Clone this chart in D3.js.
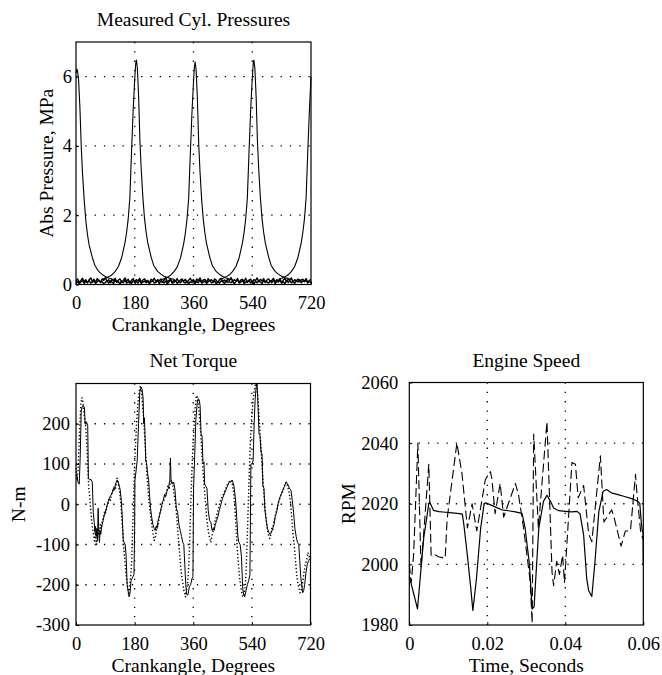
<!DOCTYPE html>
<html><head><meta charset="utf-8">
<script src="https://cdn.jsdelivr.net/npm/d3@7"></script>
<style>
body{margin:0;background:#fff}
svg text{font-family:"Liberation Serif","Times New Roman",Times,"DejaVu Serif","Noto Serif",serif !important;fill:#000}
</style>
</head><body>
<svg id="c" width="662" height="675"></svg>
<script>
// ---------- DATA ----------
const crankTicks = [0, 180, 360, 540, 720];
const crankGrid = [180, 360, 540];
const pressureTicks = [0, 2, 4, 6];
const pressureGrid = [2, 4, 6];

// cylinder pressure traces [crank angle deg, MPa]
const cyl1a = [[0,6.1],[3,6.22],[5,6.15],[8,5.9],[12,5.1],[16,4.0],[20,3.2],[25,2.45],[30,1.85],[35,1.45],[40,1.15],[50,0.78],[58,0.55],[70,0.37],[80,0.29],[90,0.23],[100,0.19],[110,0.16],[120,0.14]];
const cyl1b = [[620,0.15],[630,0.18],[640,0.22],[650,0.28],[660,0.38],[670,0.52],[680,0.78],[690,1.2],[695,1.5],[700,1.9],[705,2.5],[710,3.8],[715,5.0],[720,6.0]];
const cyl2 = [[80,0.15],[90,0.18],[100,0.22],[110,0.28],[120,0.38],[130,0.52],[140,0.78],[150,1.2],[155,1.5],[160,1.9],[165,2.5],[170,3.8],[175,5.0],[180,5.95],[183,6.38],[185,6.48],[188,6.25],[192,5.4],[196,4.1],[200,3.3],[205,2.5],[210,1.9],[215,1.5],[220,1.2],[230,0.8],[238,0.55],[250,0.38],[260,0.3],[270,0.24],[280,0.2],[290,0.17],[300,0.15]];
const cyl3 = [[260,0.14],[270,0.17],[280,0.21],[290,0.27],[300,0.37],[310,0.5],[320,0.76],[330,1.18],[335,1.48],[340,1.88],[345,2.45],[350,3.7],[355,4.9],[360,5.85],[363,6.3],[365,6.42],[368,6.2],[372,5.35],[376,4.05],[380,3.25],[385,2.45],[390,1.88],[395,1.48],[400,1.18],[410,0.78],[418,0.54],[430,0.37],[440,0.29],[450,0.23],[460,0.19],[470,0.16],[480,0.14]];
const cyl4 = [[440,0.15],[450,0.18],[460,0.22],[470,0.28],[480,0.38],[490,0.52],[500,0.78],[510,1.2],[515,1.5],[520,1.9],[525,2.5],[530,3.8],[535,5.0],[540,5.95],[543,6.38],[545,6.48],[548,6.25],[552,5.4],[556,4.1],[560,3.3],[565,2.5],[570,1.9],[575,1.5],[580,1.2],[590,0.8],[598,0.55],[610,0.38],[620,0.3],[630,0.24],[640,0.2],[650,0.17],[660,0.15]];
// low-pressure (noisy) traces, sampled every 5 degrees from 0 to 720
const lowA = [0.10,0.16,0.06,0.12,0.18,0.08,0.14,0.05,0.13,0.19,0.09,0.15,0.06,0.17,0.11,0.07,0.16,0.12,0.20,0.08,
0.14,0.05,0.15,0.10,0.18,0.07,0.13,0.16,0.06,0.12,0.19,0.09,0.15,0.04,0.12,0.17,0.08,0.14,0.10,0.18,
0.06,0.13,0.16,0.09,0.12,0.05,0.15,0.11,0.18,0.07,0.14,0.10,0.16,0.06,0.13,0.19,0.08,0.12,0.15,0.05,
0.14,0.10,0.17,0.07,0.13,0.16,0.09,0.15,0.06,0.12,0.18,0.10,0.14,0.05,0.16,0.11,0.19,0.08,0.13,0.15,
0.06,0.17,0.10,0.14,0.08,0.16,0.12,0.05,0.15,0.18,0.09,0.13,0.07,0.16,0.11,0.20,0.08,0.14,0.10,0.17,
0.06,0.13,0.15,0.09,0.18,0.07,0.12,0.16,0.05,0.14,0.11,0.19,0.08,0.15,0.10,0.17,0.06,0.13,0.16,0.09,
0.12,0.18,0.07,0.14,0.10,0.16,0.05,0.13,0.17,0.08,0.15,0.11,0.19,0.06,0.14,0.10,0.16,0.08,0.13,0.15,
0.09,0.17,0.06,0.12,0.14];
const lowB = [0.04,0.08,0.02,0.07,0.11,0.03,0.09,0.05,0.12,0.04,0.07,0.10,0.03,0.08,0.13,0.05,0.09,0.02,0.06,0.11,
0.04,0.10,0.07,0.03,0.12,0.06,0.08,0.02,0.10,0.05,0.13,0.04,0.07,0.09,0.03,0.11,0.06,0.08,0.04,0.12,
0.03,0.07,0.10,0.05,0.09,0.02,0.08,0.11,0.04,0.06,0.12,0.03,0.09,0.07,0.05,0.10,0.02,0.08,0.13,0.04,
0.06,0.11,0.03,0.09,0.05,0.12,0.07,0.04,0.10,0.02,0.08,0.06,0.11,0.03,0.09,0.05,0.13,0.04,0.07,0.10,
0.03,0.08,0.12,0.05,0.06,0.10,0.02,0.09,0.04,0.11,0.07,0.03,0.12,0.06,0.08,0.05,0.10,0.02,0.09,0.13,
0.04,0.07,0.11,0.03,0.08,0.06,0.12,0.04,0.10,0.02,0.09,0.05,0.11,0.07,0.03,0.12,0.06,0.08,0.04,0.10,
0.05,0.13,0.03,0.09,0.07,0.11,0.04,0.08,0.02,0.12,0.06,0.10,0.05,0.09,0.03,0.11,0.07,0.14,0.05,0.10,
0.08,0.12,0.04,0.09,0.06];

const torqueTicks = [-300, -200, -100, 0, 100, 200];
const torqueGrid = [-200, -100, 0, 100, 200];
// measured net torque (solid) [deg, N-m]
const torqueSolid = [[0,75],[3,70],[6,55],[10,50],[13,120],[16,230],[19,242],[22,245],[26,240],[28,200],[32,205],[36,195],[38,65],[42,60],[46,62],[50,55],[53,-20],[56,-45],[58,-70],[60,-55],[62,-80],[64,-60],[66,-90],[68,-10],[70,-70],[72,-95],[74,-65],[76,-75],[79,-55],[82,-45],[86,-30],[90,-20],[95,-5],[100,10],[105,20],[110,25],[115,40],[118,35],[121,50],[124,55],[127,60],[130,55],[133,45],[136,35],[139,10],[142,-30],[145,-90],[148,-95],[151,-100],[154,-130],[157,-200],[160,-215],[163,-230],[166,-220],[169,-190],[172,-185],[175,-180],[178,-175],[180,-60],[181,60],[184,80],[188,110],[192,200],[196,280],[200,290],[203,285],[206,265],[208,200],[210,215],[212,170],[214,110],[217,100],[220,75],[223,60],[226,20],[229,-10],[232,-30],[236,-50],[240,-60],[243,-65],[246,-55],[249,-60],[252,-40],[256,-30],[260,-15],[264,0],[268,10],[272,25],[276,20],[280,35],[284,40],[288,60],[290,115],[292,55],[296,50],[300,55],[304,35],[308,-10],[312,-20],[316,-50],[320,-65],[324,-80],[328,-95],[331,-100],[334,-150],[337,-200],[340,-225],[344,-225],[348,-205],[352,-200],[356,-185],[359,-180],[361,40],[364,110],[368,210],[372,250],[375,262],[378,260],[381,245],[384,175],[387,170],[390,100],[393,105],[395,50],[398,45],[402,40],[406,-15],[410,-40],[414,-45],[418,-65],[421,-60],[424,-65],[428,-50],[432,-40],[436,-30],[440,-15],[445,0],[450,15],[455,25],[460,35],[465,45],[470,55],[475,55],[480,60],[485,45],[488,25],[491,0],[494,-40],[497,-80],[500,-95],[504,-100],[508,-130],[512,-210],[515,-225],[518,-230],[522,-215],[526,-200],[530,-190],[534,-175],[537,100],[541,100],[544,110],[547,200],[550,260],[553,290],[556,300],[559,240],[562,175],[565,170],[568,130],[571,125],[574,45],[577,40],[580,-15],[584,-40],[588,-60],[592,-70],[596,-75],[600,-70],[604,-60],[608,-50],[612,-30],[616,-20],[620,0],[625,15],[630,25],[635,35],[640,45],[645,55],[650,50],[655,40],[660,35],[664,10],[668,-20],[672,-60],[676,-80],[680,-95],[684,-100],[687,-140],[690,-180],[693,-200],[696,-220],[699,-215],[702,-200],[706,-170],[710,-150],[714,-140],[718,-135]];
// modelled net torque (dotted) [deg, N-m]
const torqueDotted = [[0,90],[3,60],[6,80],[9,140],[12,200],[15,250],[18,265],[21,255],[24,230],[27,210],[30,190],[33,150],[36,100],[39,40],[42,20],[45,-10],[48,-40],[51,-60],[54,-75],[57,-95],[60,-70],[63,-100],[66,-80],[69,-60],[72,-75],[75,-50],[78,-60],[81,-40],[84,-35],[87,-20],[90,-25],[94,-5],[98,0],[102,15],[106,10],[110,30],[114,35],[118,45],[122,40],[126,65],[130,50],[134,30],[138,0],[141,-40],[144,-70],[147,-110],[150,-140],[153,-170],[156,-190],[159,-210],[162,-225],[165,-200],[168,-180],[171,-140],[174,-60],[177,20],[180,100],[183,150],[186,200],[189,240],[192,265],[195,285],[198,295],[201,285],[204,250],[207,220],[210,180],[213,140],[216,100],[219,60],[222,30],[225,0],[228,-20],[231,-40],[234,-60],[237,-75],[240,-90],[243,-85],[246,-70],[249,-50],[252,-55],[255,-35],[258,-20],[262,-10],[266,5],[270,10],[274,20],[278,30],[282,45],[286,40],[290,55],[294,60],[298,45],[302,20],[306,0],[309,-30],[312,-60],[315,-90],[318,-120],[321,-150],[324,-175],[327,-190],[330,-210],[333,-220],[336,-230],[339,-215],[342,-200],[345,-170],[348,-120],[351,-40],[354,40],[357,110],[360,160],[363,200],[366,240],[369,265],[372,270],[375,255],[378,230],[381,200],[384,160],[387,120],[390,80],[393,50],[396,20],[399,-10],[402,-40],[405,-60],[408,-75],[411,-85],[414,-95],[417,-80],[420,-70],[423,-60],[426,-45],[430,-35],[434,-20],[438,-10],[442,5],[446,15],[450,20],[455,30],[460,40],[465,50],[470,55],[475,60],[480,50],[484,30],[487,0],[490,-40],[493,-80],[496,-120],[499,-150],[502,-180],[505,-200],[508,-215],[511,-228],[514,-230],[517,-220],[520,-200],[523,-150],[526,-80],[529,0],[532,80],[535,150],[538,200],[541,230],[544,260],[547,280],[550,295],[553,300],[556,290],[559,260],[562,220],[565,180],[568,140],[571,100],[574,60],[577,30],[580,0],[583,-30],[586,-55],[589,-70],[592,-80],[595,-85],[598,-75],[601,-60],[604,-65],[607,-45],[610,-35],[614,-20],[618,-10],[622,5],[626,15],[630,25],[634,30],[638,40],[642,50],[646,55],[650,45],[654,30],[658,10],[661,-20],[664,-50],[667,-80],[670,-100],[673,-130],[676,-160],[679,-185],[682,-200],[685,-210],[688,-220],[691,-215],[694,-205],[697,-190],[700,-170],[704,-150],[708,-140],[712,-120],[716,-130],[720,-140]];

const timeTicks = [0, 0.02, 0.04, 0.06];
const timeGrid = [0.02, 0.04];
const rpmTicks = [1980, 2000, 2020, 2040, 2060];
const rpmGrid = [2000, 2020, 2040];
// engine speed [s, RPM]
const speedSolid = [[0,1996],[0.0008,1992],[0.0021,1985.3],[0.0037,2008.7],[0.005,2020],[0.0053,2020.4],[0.0062,2017.8],[0.0076,2017.4],[0.0093,2017.2],[0.011,2017],[0.0123,2016.8],[0.0136,2016.6],[0.014,2013],[0.0148,2004],[0.0157,1993],[0.0163,1984.8],[0.0172,1995],[0.0183,2012],[0.0192,2020],[0.0196,2020.3],[0.0216,2019.2],[0.0237,2018],[0.0254,2017.7],[0.0272,2017.3],[0.0289,2016.8],[0.0297,2012],[0.0308,2000],[0.0315,1985.3],[0.032,1986],[0.0332,2011.9],[0.0344,2020.8],[0.0353,2022.8],[0.0362,2020.8],[0.037,2018.6],[0.0383,2017.7],[0.04,2017.5],[0.0417,2017.3],[0.043,2017.5],[0.0438,2016.6],[0.0447,2009.7],[0.0455,1995.2],[0.046,1991.3],[0.0468,1989.4],[0.0476,2000.8],[0.0486,2017.4],[0.0497,2024.1],[0.0506,2024.7],[0.0518,2023.6],[0.0535,2023],[0.0552,2022.4],[0.057,2021.7],[0.0583,2021],[0.0591,2020.2],[0.0594,2015],[0.0597,2011.3],[0.05995,2010.5],[0.06,2000]];
const speedDashed = [[0,2000],[0.0005,1994],[0.0011,2003],[0.0022,2040],[0.003,1999],[0.0038,2012],[0.005,2033],[0.0056,2003],[0.0062,2003.5],[0.0075,2002.5],[0.0092,2002],[0.0097,2015],[0.0122,2040],[0.0135,2030],[0.0149,2012],[0.0161,2020],[0.0173,2011],[0.0195,2028],[0.0208,2030.6],[0.0212,2028],[0.022,2016.7],[0.0233,2026.7],[0.0242,2015.6],[0.0272,2026.7],[0.028,2023],[0.0293,2012],[0.031,1994.4],[0.0315,1980.6],[0.0319,2043],[0.0331,2012],[0.0353,2047],[0.0366,1997.4],[0.037,1993],[0.0378,2001],[0.0385,1996.7],[0.0393,2003],[0.0398,1994],[0.0417,2033.6],[0.0426,2033],[0.0433,2022],[0.0447,2026],[0.046,2010],[0.0468,2007.5],[0.049,2035.8],[0.0499,2014],[0.0519,2018],[0.0524,2016],[0.0543,2006],[0.0554,2011],[0.0567,2011],[0.058,2029.7],[0.0584,2023],[0.0593,2011],[0.06,2008]];

// ---------- DRAWING ----------
const svg = d3.select("#c");
const FONT = '"Liberation Serif","Times New Roman",Times,"DejaVu Serif","Noto Serif",serif';
const FS = 19.5, TFS = 18.5;

function panel(cfg) {
  const g = svg.append("g");
  const x = d3.scaleLinear().domain(cfg.xDomain).range([cfg.left, cfg.right]);
  const y = d3.scaleLinear().domain(cfg.yDomain).range([cfg.bottom, cfg.top]);
  const gridStyle = s => s.attr("stroke", "#000").attr("stroke-width", 1.3).attr("stroke-dasharray", "1.3,8");
  g.append("g").selectAll("line").data(cfg.xGrid).join("line")
    .attr("x1", d => x(d)).attr("x2", d => x(d)).attr("y1", cfg.top).attr("y2", cfg.bottom).call(gridStyle);
  g.append("g").selectAll("line").data(cfg.yGrid).join("line")
    .attr("y1", d => y(d)).attr("y2", d => y(d)).attr("x1", cfg.left).attr("x2", cfg.right).call(gridStyle);

  const xa = d3.axisBottom(x).tickValues(cfg.xTicks).tickFormat(cfg.xFormat || (d => d))
    .tickSizeInner(-3).tickSizeOuter(0).tickPadding(cfg.xPad);
  const ya = d3.axisLeft(y).tickValues(cfg.yTicks).tickFormat(d => d)
    .tickSizeInner(-3).tickSizeOuter(0).tickPadding(cfg.yPad);
  const ax = g.append("g").attr("transform", `translate(0,${cfg.bottom})`).call(xa);
  const ay = g.append("g").attr("transform", `translate(${cfg.left},0)`).call(ya);
  [ax, ay].forEach(a => {
    a.attr("font-family", FONT).attr("font-size", TFS);
    a.select(".domain").remove();
    a.selectAll("text").attr("font-size", TFS).attr("font-family", FONT).attr("fill", "#000");
    a.selectAll("line").attr("stroke", "#000");
  });

  const t = (xx, yy, s) => g.append("text").attr("x", xx).attr("y", yy)
    .attr("text-anchor", "middle").attr("font-size", FS).attr("font-family", FONT).text(s);
  t((cfg.left + cfg.right) / 2, cfg.titleY, cfg.title);
  t((cfg.left + cfg.right) / 2, cfg.xLabelY, cfg.xLabel);
  g.append("text").attr("transform", `translate(${cfg.yLabelX},${(cfg.top + cfg.bottom) / 2}) rotate(-90)`)
    .attr("text-anchor", "middle").attr("font-size", FS).attr("font-family", FONT).text(cfg.yLabel);

  const plot = g.append("g");
  return {x, y, g, plot, cfg};
}

function addLine(p, data, opts = {}) {
  const line = d3.line().x(d => p.x(d[0])).y(d => p.y(d[1]));
  p.plot.append("path").datum(data).attr("d", line)
    .attr("fill", "none").attr("stroke", "#000")
    .attr("stroke-width", opts.w || 1)
    .attr("stroke-dasharray", opts.dash || null)
    .attr("stroke-linejoin", "round");
}

function frame(p) {
  const c = p.cfg;
  p.g.append("rect").attr("x", c.left).attr("y", c.top)
    .attr("width", c.right - c.left).attr("height", c.bottom - c.top)
    .attr("fill", "none").attr("stroke", "#000").attr("stroke-width", 1.2);
}

// --- Panel 1: Measured Cyl. Pressures ---
const p1 = panel({
  left: 76, right: 311, top: 42, bottom: 284.5,
  xDomain: [0, 720], yDomain: [0, 7],
  xTicks: crankTicks, yTicks: pressureTicks, xGrid: crankGrid, yGrid: pressureGrid,
  xPad: 11, yPad: 4,
  title: "Measured Cyl. Pressures", titleY: 26,
  xLabel: "Crankangle, Degrees", xLabelY: 331,
  yLabel: "Abs Pressure, MPa", yLabelX: 53
});
const lowAngles = d3.range(0, 721, 5);
addLine(p1, lowAngles.map((a, i) => [a, lowA[i]]), {w: 1.4});
addLine(p1, lowAngles.map((a, i) => [a, lowB[i]]), {w: 1.4});
[cyl1a, cyl1b, cyl2, cyl3, cyl4].forEach(c => addLine(p1, c, {w: 1.1}));
frame(p1);

// --- Panel 2: Net Torque ---
const p2 = panel({
  left: 76, right: 310.5, top: 383.5, bottom: 625,
  xDomain: [0, 720], yDomain: [-300, 300],
  xTicks: crankTicks, yTicks: torqueTicks, xGrid: crankGrid, yGrid: torqueGrid,
  xPad: 12, yPad: 6,
  title: "Net Torque", titleY: 367,
  xLabel: "Crankangle, Degrees", xLabelY: 671.5,
  yLabel: "N-m", yLabelX: 25
});
addLine(p2, torqueDotted, {w: 1.4, dash: "1.3,2.2"});
addLine(p2, torqueSolid, {w: 1});
frame(p2);

// --- Panel 3: Engine Speed ---
const p3 = panel({
  left: 409.3, right: 643.3, top: 382.5, bottom: 625,
  xDomain: [0, 0.06], yDomain: [1980, 2060],
  xTicks: timeTicks, yTicks: rpmTicks, xGrid: timeGrid, yGrid: rpmGrid,
  xFormat: d => d === 0 ? "0" : d3.format(".2f")(d),
  xPad: 12, yPad: 11,
  title: "Engine Speed", titleY: 367,
  xLabel: "Time, Seconds", xLabelY: 671.5,
  yLabel: "RPM", yLabelX: 355
});
addLine(p3, speedDashed, {w: 1.1, dash: "9,4"});
addLine(p3, speedSolid, {w: 1.2});
frame(p3);
</script>
</body></html>
